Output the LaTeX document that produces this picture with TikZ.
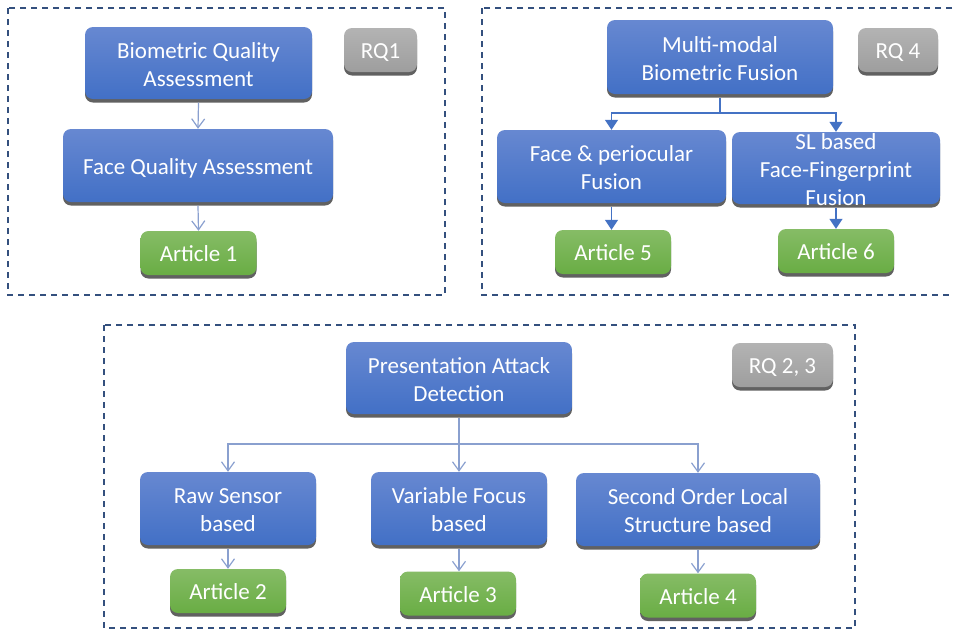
\documentclass[tikz,border=0pt]{standalone}
\usepackage{fontspec}
\setmainfont{Carlito}
\usetikzlibrary{arrows.meta,shadows,calc}

\definecolor{blueTop}{HTML}{6788D1}
\definecolor{blueBot}{HTML}{4270C6}
\definecolor{greenTop}{HTML}{86BC66}
\definecolor{greenBot}{HTML}{69AD44}
\definecolor{grayTop}{HTML}{B3B3B3}
\definecolor{grayBot}{HTML}{9E9E9E}
\definecolor{frameCol}{HTML}{34507E}
\definecolor{thinArrow}{HTML}{8AA0CF}
\definecolor{boldArrow}{HTML}{4472C4}

% invisible rules giving every one-line label the same height and depth
\newcommand{\topstrut}{\rule{0pt}{23pt}}
\newcommand{\botstrut}{\rule[-6pt]{0pt}{6pt}}
% centred lines, 28pt apart, hung from the first baseline
\newcommand{\boxlines}[1]{\rule{0pt}{26.4pt}\begin{tabular}[t]{@{}c@{}}#1\end{tabular}}

\begin{document}
\begin{tikzpicture}[x=1pt,y=-1pt,
  every node/.style={font=\fontsize{23}{28}\selectfont, text=white, inner sep=0pt,
    execute at begin node=\topstrut, execute at end node=\botstrut},
  basebox/.style={rounded corners=8pt, draw=none,
    general shadow={shadow xshift=0pt, shadow yshift=-3.5pt, fill=black!62}},
  bluebox/.style 2 args={basebox, top color=blueTop, bottom color=blueBot,
    minimum width=#1, minimum height=#2},
  greenbox/.style={basebox, top color=greenTop, bottom color=greenBot,
    minimum width=116pt, minimum height=44pt},
  graybox/.style={basebox, top color=grayTop, bottom color=grayBot,
    minimum height=44pt},
  panel/.style={draw=frameCol, line width=1.6pt, dash pattern=on 6pt off 5pt},
  thinconn/.style={draw=thinArrow, line width=1.2pt, -{Straight Barb[length=9pt,width=13pt,line width=1.2pt]}},
  boldconn/.style={draw=boldArrow, line width=1.5pt, -{Triangle[length=10pt,width=13pt]}},
]
\useasboundingbox (0,0) rectangle (953,630);

% dashed frames of the three groups
\draw[panel] (8,8) rectangle (445,295);
\draw[panel] (482,8) rectangle (958,295);
\draw[panel] (104,325) rectangle (855,628);

% ---- quality assessment group
\node[bluebox={227pt}{72pt}] (bqa) at (198.5,63) {\boxlines{Biometric Quality\\Assessment}};
\node[bluebox={270pt}{73pt}] (fqa) at (198,165.5) {Face Quality Assessment};
\node[greenbox] (a1) at (198.5,253) {Article 1};
\node[graybox, minimum width=73pt] (rq1) at (380.5,50) {RQ1};

\draw[thinconn] ($(bqa.south)+(0,3.5)$) -- (fqa.north);
\draw[thinconn] ($(fqa.south)+(0,3.5)$) -- (a1.north);

% ---- fusion group
\node[bluebox={226pt}{74pt}] (mbf) at (720,57) {\boxlines{Multi-modal\\Biometric Fusion}};
\node[graybox, minimum width=80pt] (rq4) at (898,50) {RQ 4};
\node[bluebox={229pt}{73pt}] (fpf) at (611.5,166.5) {\boxlines{Face \& periocular\\Fusion}};
\node[bluebox={208pt}{72pt}] (slf) at (836,168) {};
\node (slt) at (slf.center) {\boxlines{SL based\\Face-Fingerprint\\Fusion}};
\node[greenbox] (a5) at (613,252) {Article 5};
\node[greenbox] (a6) at (836,251) {Article 6};

\coordinate (j2) at (720,113);
\draw[boldconn] ($(mbf.south)+(0,3.5)$) -- (j2) -| (fpf.north);
\draw[boldconn] (j2) -| (slf.north);
\draw[boldconn] ($(fpf.south)+(0,3.5)$) -- (fpf.south |- a5.north);
\draw[boldconn] ($(slf.south)+(0,3.5)$) -- (slf.south |- a6.north);

% ---- presentation attack detection group
\node[bluebox={226pt}{72pt}] (pad) at (459,378) {\boxlines{Presentation Attack\\Detection}};
\node[graybox, minimum width=101pt] (rq23) at (782.5,365) {RQ 2, 3};
\node[bluebox={176pt}{73pt}] (raw) at (228,508.5) {\boxlines{Raw Sensor\\based}};
\node[bluebox={176pt}{73pt}] (vfb) at (459,508.5) {\boxlines{Variable Focus\\based}};
\node[bluebox={244pt}{73pt}] (sol) at (698,509.5) {\boxlines{Second Order Local\\Structure based}};
\node[greenbox] (a2) at (228,591) {Article 2};
\node[greenbox] (a3) at (458,593.5) {Article 3};
\node[greenbox] (a4) at (698,595.5) {Article 4};

\coordinate (j3) at (459,444);
\draw[thinconn] ($(pad.south)+(0,3.5)$) -- (vfb.north);
\draw[thinconn] (j3) -| (raw.north);
\draw[thinconn] (j3) -| (sol.north);
\draw[thinconn] ($(raw.south)+(0,3.5)$) -- (raw.south |- a2.north);
\draw[thinconn] ($(vfb.south)+(0,3.5)$) -- (vfb.south |- a3.north);
\draw[thinconn] ($(sol.south)+(0,3.5)$) -- (sol.south |- a4.north);
\end{tikzpicture}
\end{document}
